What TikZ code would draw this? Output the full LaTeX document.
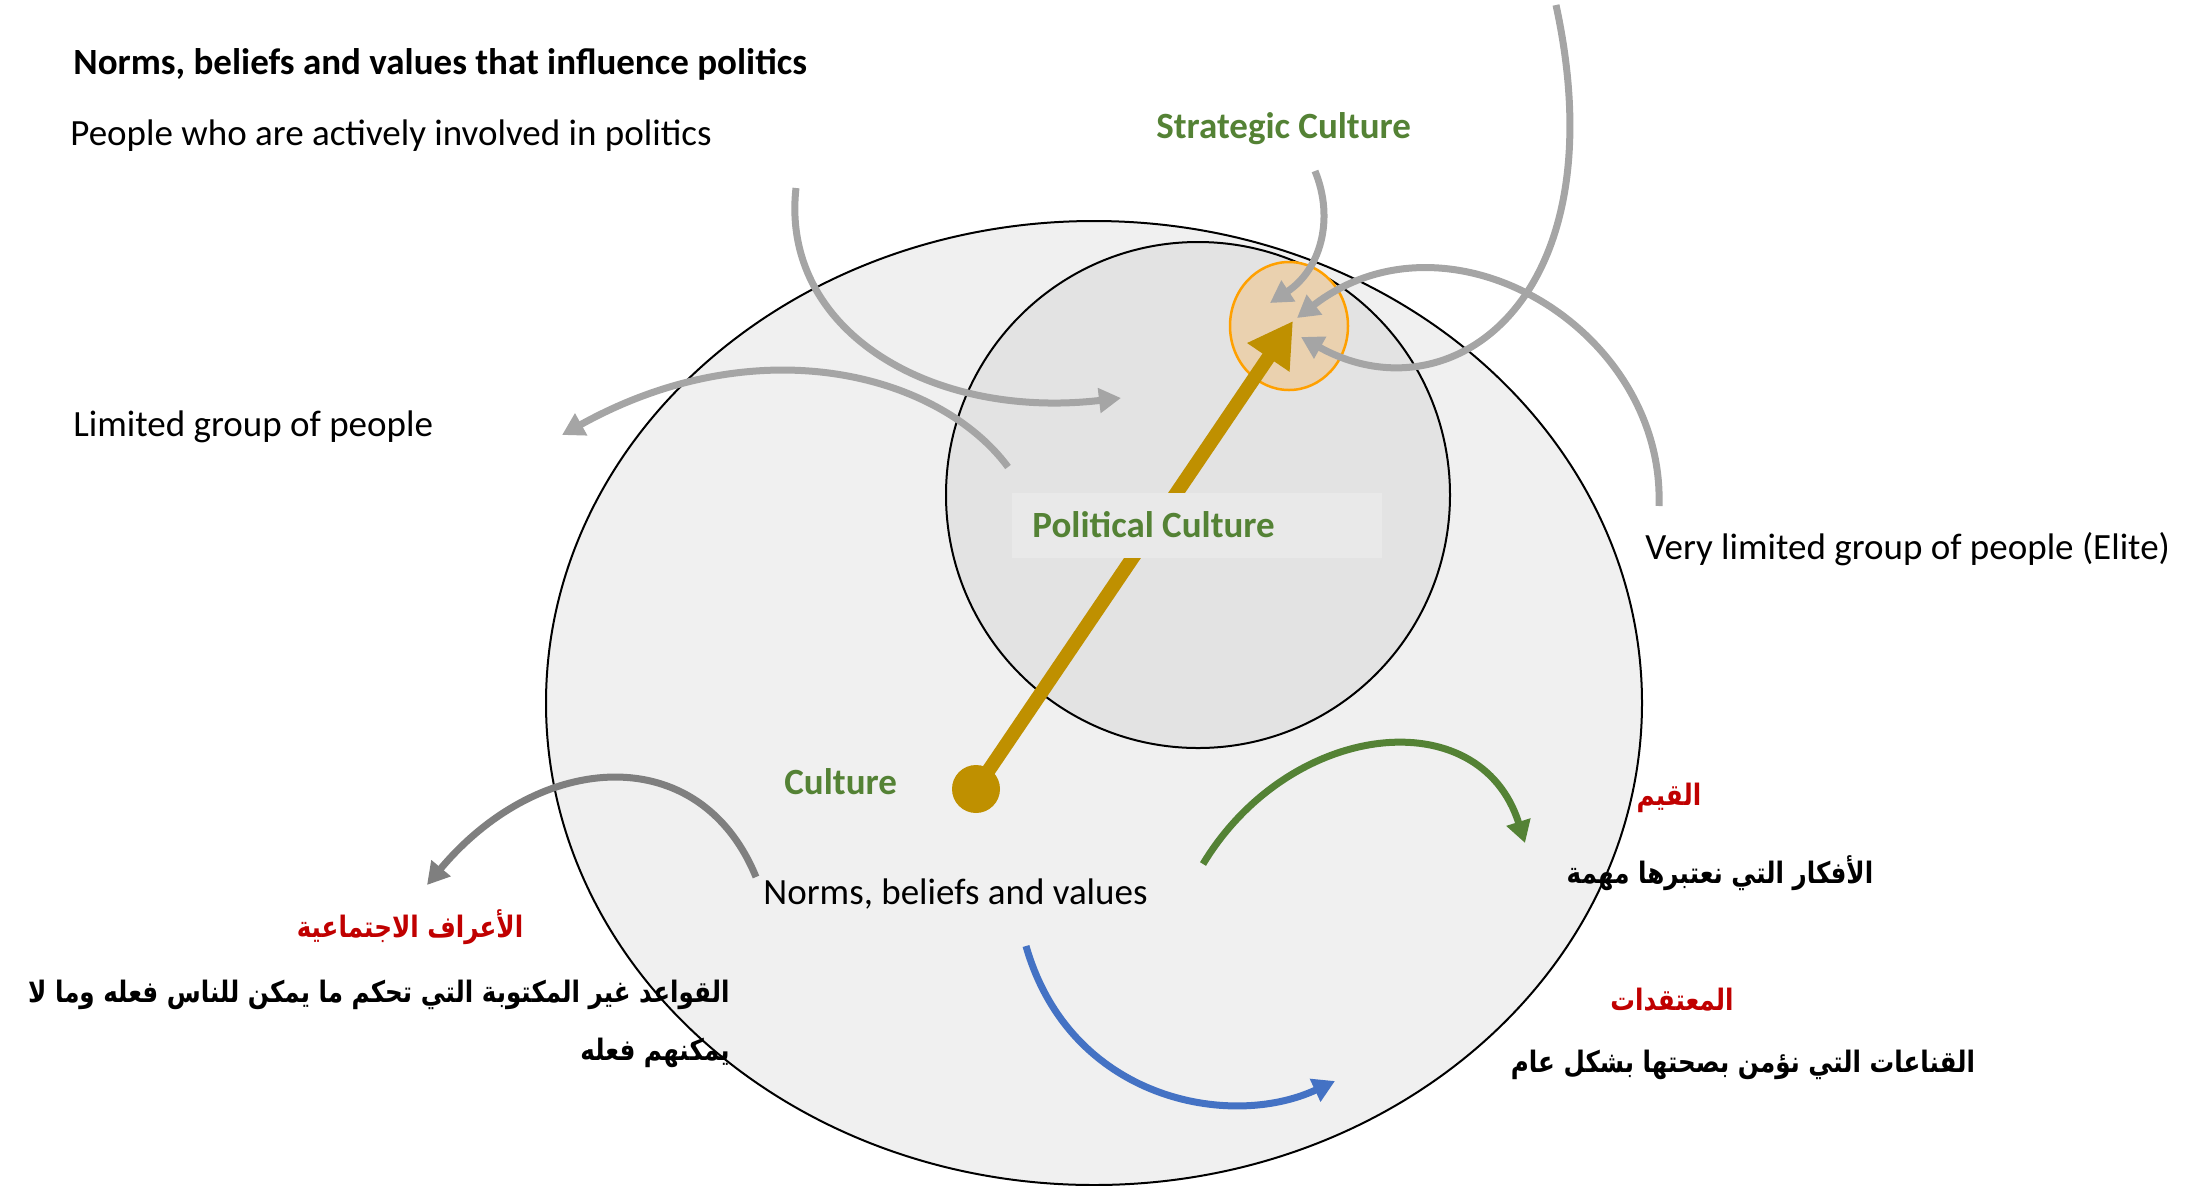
\documentclass[tikz,border=0pt]{standalone}
\usepackage{fontspec}
\setmainfont{Carlito}
\newfontfamily\arabicfont[Script=Arabic]{DejaVu Sans}
\TeXXeTstate=1
\usetikzlibrary{arrows.meta}
\definecolor{grn}{HTML}{548235}
\definecolor{gld}{HTML}{BF9000}
\definecolor{lgry}{HTML}{A5A5A5}
\definecolor{dgry}{HTML}{7F7F7F}
\definecolor{blu}{HTML}{4472C4}
\definecolor{redt}{HTML}{C00000}
\definecolor{orng}{HTML}{FFA000}
\definecolor{tanfill}{HTML}{EAD1AF}
\definecolor{outerfill}{HTML}{F0F0F0}
\definecolor{innerfill}{HTML}{E3E3E3}
\definecolor{boxfill}{HTML}{E9E9E9}
\newcommand{\artxt}[1]{\scalebox{1}[1.2]{\beginR #1\endR}}
\begin{document}
\begin{tikzpicture}[x=0.5pt,y=-0.5pt,
  flow/.style={line width=3.5pt, -{Triangle[length=11pt,width=12pt]}},
  lbl/.style={inner sep=0pt, anchor=base west, font=\fontsize{18.5}{22}\selectfont},
  lblb/.style={inner sep=0pt, anchor=base west, font=\fontsize{18.5}{22}\selectfont\bfseries},
  arb/.style={inner sep=0pt, anchor=base, font=\arabicfont\bfseries\fontsize{12.3}{15}\selectfont},
  arr/.style={inner sep=0pt, anchor=base east, font=\arabicfont\bfseries\fontsize{12.3}{15}\selectfont},
]
\useasboundingbox (0,0) rectangle (2192,1185);
% circles
\filldraw[fill=outerfill, draw=black, line width=1pt] (1094,703) ellipse [x radius=548, y radius=482];
\filldraw[fill=innerfill, draw=black, line width=1pt] (1198,495) ellipse [x radius=252, y radius=253];
\filldraw[fill=tanfill, draw=orng, line width=1.25pt] (1289,326) ellipse [x radius=59, y radius=64];
% coordinates
\coordinate (pa1) at (796,188); \coordinate (pa2) at (1121,398);
\coordinate (lg1) at (1008,467); \coordinate (lg2) at (562,435);
\coordinate (sc1) at (1315,171); \coordinate (sc2) at (1270,303);
\coordinate (tr1) at (1556,5);   \coordinate (tr2) at (1301,337);
\coordinate (el1) at (1659,506); \coordinate (el2) at (1297,318);
\coordinate (sn1) at (756,877);  \coordinate (sn2) at (427,885);
\coordinate (vl1) at (1203,864); \coordinate (vl2) at (1525,843);
\coordinate (bl1) at (1026,946); \coordinate (bl2) at (1335,1081);
\coordinate (cdot) at (976,789); \coordinate (ctip) at (1293,321);
% gray arrows
\draw[flow, lgry] (pa1) .. controls (780,330) and (930,420) .. (pa2);
\draw[flow, lgry] (lg1) .. controls (940,375) and (760,325) .. (lg2);
\draw[flow, lgry] (sc1) .. controls (1335,220) and (1320,270) .. (sc2);
\draw[flow, lgry] (tr1) .. controls (1620,300) and (1450,420) .. (tr2);
\draw[flow, lgry] (el1) .. controls (1665,330) and (1450,200) .. (el2);
\draw[flow, dgry] (sn1) .. controls (700,740) and (540,750) .. (sn2);
\draw[flow, grn] (vl1) .. controls (1290,720) and (1480,700) .. (vl2);
\draw[flow, blu] (bl1) .. controls (1070,1100) and (1230,1130) .. (bl2);
% gold arrow
\fill[gld] (cdot) circle (24);
\draw[gld, line width=7pt, -{Triangle[length=22pt,width=24pt]}] (cdot) -- (ctip);
% political culture box
\fill[boxfill] (1012,493) rectangle (1382,558);
% labels
\node[lblb] (title) at (73,74) {Norms, beliefs and values that influence politics};
\node[lbl] (active) at (70,145) {People who are actively involved in politics};
\node[lblb, text=grn] (strat) at (1156,138) {Strategic Culture};
\node[lbl] (limited) at (73,436) {Limited group of people};
\node[lblb, text=grn] (polit) at (1032,537) {Political Culture};
\node[lbl] (elite) at (1645,559) {Very limited group of people (Elite)};
\node[lblb, text=grn] (cult) at (784,794) {Culture};
\node[lbl] (norms) at (763,904) {Norms, beliefs and values};
\node[arb, text=redt] (qiyam) at (1669,805) {\artxt{القيم}};
\node[arb] (qiyamd) at (1720,883) {\artxt{الأفكار التي نعتبرها مهمة}};
\node[arb, text=redt] (mutaq) at (1672,1010) {\artxt{المعتقدات}};
\node[arb] (mutaqd) at (1743,1072) {\artxt{القناعات التي نؤمن بصحتها بشكل عام}};
\node[arb, text=redt] (aaraf) at (410,937) {\artxt{الأعراف الاجتماعية}};
\node[arr] (aarafd1) at (730,1002) {\artxt{القواعد غير المكتوبة التي تحكم ما يمكن للناس فعله وما لا}};
\node[arr] (aarafd2) at (730,1060) {\artxt{يمكنهم فعله}};
\end{tikzpicture}
\end{document}
